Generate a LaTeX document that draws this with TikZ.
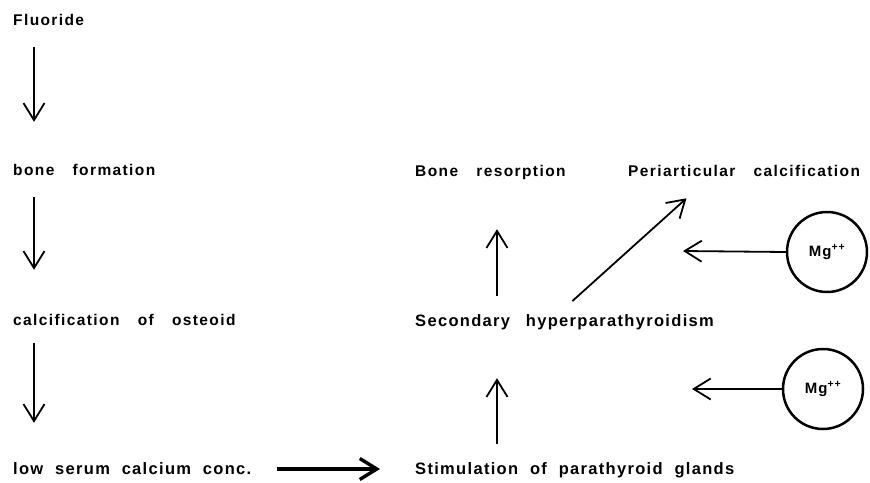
\documentclass[tikz,border=0pt]{standalone}
\usepackage{fontspec}
\setmainfont{Liberation Sans}[LetterSpace=8,WordSpace=2.0]
\newfontfamily\widesans{Liberation Sans}[LetterSpace=9,WordSpace=3.2]
\usetikzlibrary{arrows.meta}

\begin{document}
\begin{tikzpicture}[x=1pt,y=-1pt,
  lbl/.style={anchor=west,inner sep=0pt,text height=10pt,text depth=0pt,
              font=\widesans\fontsize{15.5}{17}\selectfont\bfseries},
  biglbl/.style={lbl,font=\normalfont\fontsize{16.5}{18}\selectfont\bfseries},
  barb/.style={-{Straight Barb[length=17pt,width=21pt]},line width=1.8pt},
  mgion/.style={circle,draw,line width=2.5pt,minimum size=80pt,inner sep=0pt,
              font=\fontsize{15}{16}\selectfont\bfseries}]
  \useasboundingbox (0,0) rectangle (870,482);

  % left column
  \node[lbl] (fluor)  at (13,20)  {Fluoride};
  \node[lbl] (bform)  at (13,170) {bone formation};
  \node[lbl] (calc)   at (13,320) {calcification of osteoid};
  \node[biglbl] (lowca)  at (13,469) {low serum calcium conc.};

  % middle / right
  \node[biglbl] (stim)   at (415,469) {Stimulation of parathyroid glands};
  \node[biglbl] (hpt)    at (415,321) {Secondary\hspace{4pt} hyperparathyroidism};
  \node[lbl] (resorp)  at (415,171) {Bone resorption};
  \node[lbl] (periart) at (628,171) {Periarticular calcification};

  \node[mgion] (mga) at (827,252) {Mg\textsuperscript{++}};
  \node[mgion] (mgb) at (823,389) {Mg\textsuperscript{++}};
  \coordinate (mga tip) at (683,251);
  \coordinate (mgb tip) at (692,389);

  \path[barb]
    ([xshift=21pt]fluor.south west) edge[shorten <=22pt, shorten >=43pt]
                                        ([xshift=21pt]bform.north west)
    ([xshift=21pt]bform.south west) edge[shorten <=22pt, shorten >=45pt]
                                        ([xshift=21pt]calc.north west)
    ([xshift=21pt]calc.south west)  edge[shorten <=18pt, shorten >=41pt]
                                        ([xshift=21pt]lowca.north west)

    (lowca.east) edge[line width=3.4pt, shorten <=25pt, shorten >=35pt] (stim.west)

    ([xshift=82pt]stim.north west)  edge[shorten <=20pt, shorten >=52pt]
                                        ([xshift=82pt]hpt.south west)
    ([xshift=82pt]hpt.north west)   edge[shorten <=20pt, shorten >=53pt]
                                        ([xshift=82pt]resorp.south west)
    ([xshift=141pt]hpt.north west)  edge[shorten <=22pt, shorten >=33pt]
                                        ([xshift=83pt]periart.south west)

    (mga.west) edge (mga tip)
    (mgb.west) edge (mgb tip);
\end{tikzpicture}
\end{document}
